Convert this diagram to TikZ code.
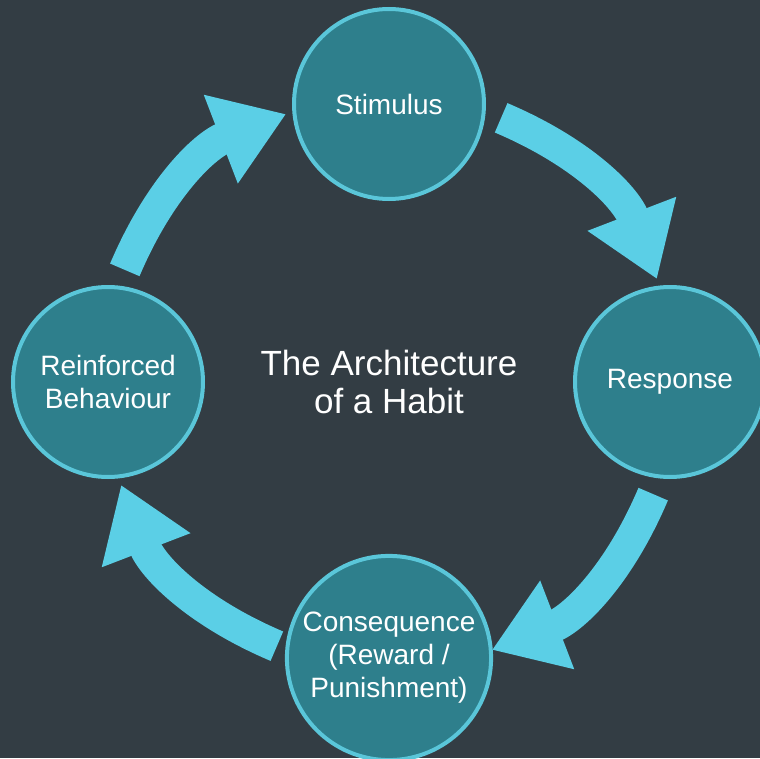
\documentclass[tikz,border=0pt]{standalone}
\usepackage{fontspec}
\setmainfont{Liberation Sans}
\usepackage{tikz}
\usetikzlibrary{arrows.meta}
\definecolor{slate}{HTML}{333D44}
\definecolor{tealfill}{HTML}{2E7F8C}
\definecolor{tealedge}{HTML}{5AC6D9}
\definecolor{cyanarrow}{HTML}{5BCFE6}
\tikzset{stage/.style={circle, draw=tealedge, fill=tealfill, line width=4pt, minimum size=190pt, text=white, align=center, font=\fontsize{28}{33}\selectfont},
  cycarrow/.style={draw=cyanarrow, line width=32pt, -{Triangle[width=90pt,length=70pt]}}}

\begin{document}
\begin{tikzpicture}[x=1pt,y=1pt]
    \useasboundingbox (-389,-376) rectangle (371,382);
    \fill[slate] (-389,-376) rectangle (371,382);
    \node [stage] (stim) at (90:278) {Stimulus};
    \node [stage] (resp) at (0:281) {Response};
    \node [stage] (cons) at (-90:276) {Consequence\\(Reward /\\Punishment)};
    \node [stage] (reinf) at (180:281) {Reinforced\\Behaviour};
    \node [text=white, align=center, font=\fontsize{35}{38}\selectfont] (title) at (0,0) {The Architecture\\of a Habit};
    \coordinate (stimout) at (67:287);
    \coordinate (respin) at (21:287);
    \coordinate (respout) at (-23:287);
    \coordinate (consin) at (-69:287);
    \coordinate (consout) at (247:287);
    \coordinate (reinfin) at (201:287);
    \coordinate (reinfout) at (157:287);
    \coordinate (stimin) at (111:287);
    \draw [cycarrow] (stimout) to[bend left=23] (respin);
    \draw [cycarrow] (respout) to[bend left=23] (consin);
    \draw [cycarrow] (consout) to[bend left=23] (reinfin);
    \draw [cycarrow] (reinfout) to[bend left=23] (stimin);
  \end{tikzpicture}
\end{document}
